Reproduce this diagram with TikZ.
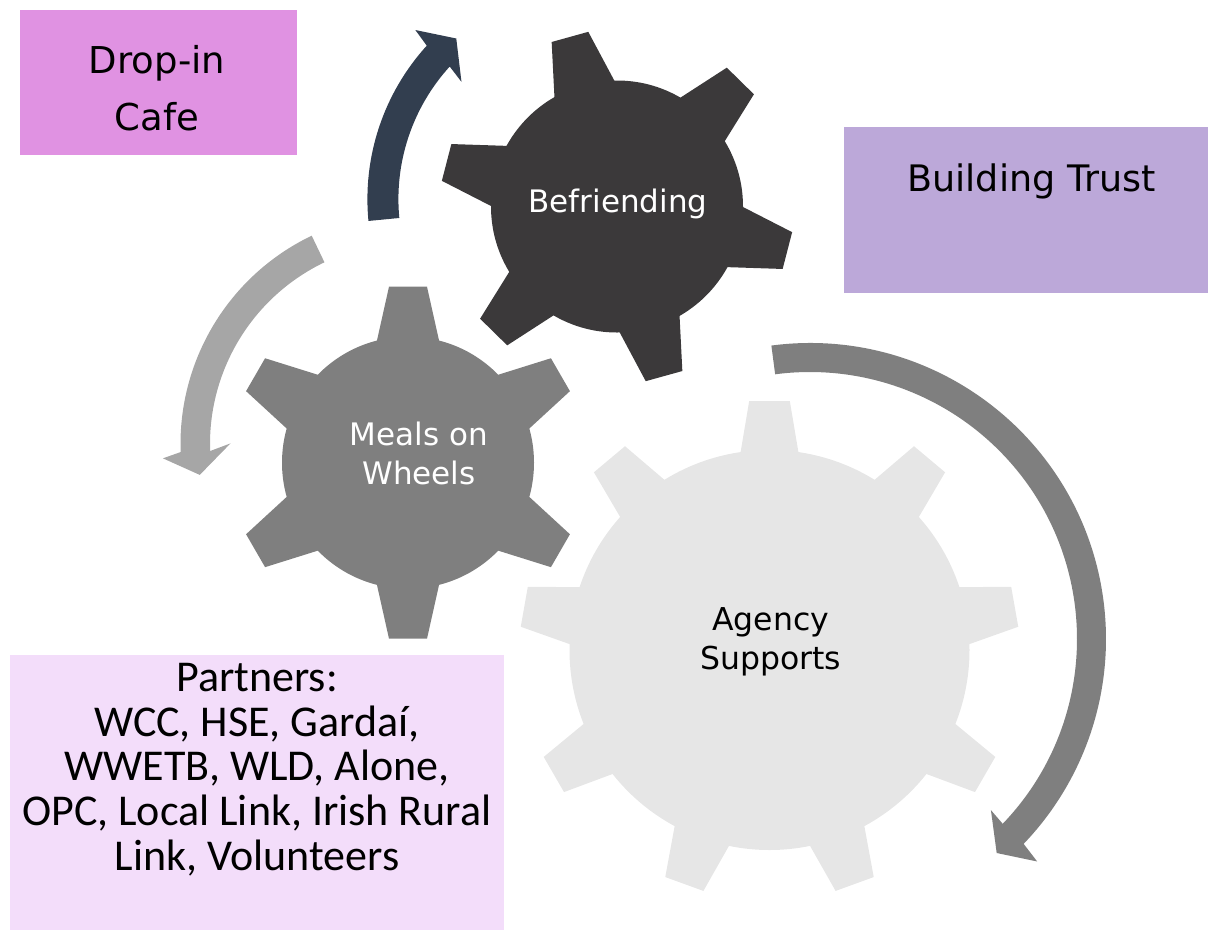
\documentclass[tikz,border=0pt]{standalone}
\usepackage{fontspec}
\setmainfont{DejaVu Sans}
\newfontfamily\partnersfont{Carlito}
\usetikzlibrary{calc}
\definecolor{gearDark}{HTML}{3B393A}
\definecolor{gearMid}{HTML}{7F7F7F}
\definecolor{gearLight}{HTML}{E6E6E6}
\definecolor{arrNavy}{HTML}{323E4F}
\definecolor{arrLight}{HTML}{A6A6A6}
\definecolor{arrMid}{HTML}{7F7F7F}
\definecolor{boxPink}{HTML}{E092E2}
\definecolor{boxLav}{HTML}{BCA8D9}
\definecolor{boxPale}{HTML}{F3DDFA}
% #1 colour, #2 centre, #3 body radius, #4 teeth, #5 first angle, #6 inner x, #7 inner half width, #8 tip x, #9 tip half width
\newcommand{\gearshape}[9]{%
  \fill[#1] (#2) circle[radius=#3pt];
  \foreach \k in {1,...,#4}{%
    \fill[#1, shift={(#2)}, rotate={#5+(\k-1)*360/#4}] (#6,-#7) -- (#8,-#9) -- (#8,#9) -- (#6,#7) -- cycle;}%
}
\begin{document}
\begin{tikzpicture}[x=1pt,y=1pt,
  lbl/.style={anchor=base, inner sep=0pt, align=center}]
\useasboundingbox (0,0) rectangle (1208,-930);

% boxes
\fill[boxPink] (20,-10) rectangle (297,-155);
\fill[boxLav] (844,-127) rectangle (1208,-293);
\fill[boxPale] (10,-655) rectangle (504,-930);

% gear centres
\coordinate (gB) at (617,-206.5);
\coordinate (gM) at (408,-462.7);
\coordinate (gA) at (769.5,-650);

% gears
\gearshape{gearDark}{gB}{126}{6}{105.5}{100}{36}{176}{19}
\gearshape{gearMid}{gM}{126}{6}{90}{100}{36}{176}{19}
\gearshape{gearLight}{gA}{200}{9}{90}{170}{33.6}{249}{20.3}

% arrow centres
\coordinate (cN) at (595.4,-199.1);
\coordinate (cL) at (411.5,-444);
\coordinate (cR) at (810,-639);

% navy arrow
\fill[arrNavy] ($(cN)+(185.5:228)$) arc[start angle=185.5, end angle=137.7, radius=228pt]
  -- ($(cN)+(136.8:247)$) -- ($(cN)+(130.9:212.5)$) -- ($(cN)+(138.8:178)$)
  -- ($(cN)+(137.7:197)$) arc[start angle=137.7, end angle=185.5, radius=197pt] -- cycle;
% light arrow
\fill[arrLight] ($(cL)+(115.6:231)$) arc[start angle=115.6, end angle=182, radius=231pt]
  -- ($(cL)+(183.3:249)$) -- ($(cL)+(188.3:214)$) -- ($(cL)+(179.8:181)$)
  -- ($(cL)+(182:201.5)$) arc[start angle=182, end angle=115.6, radius=201.5pt] -- cycle;
% big right arrow
\fill[arrMid] ($(cR)+(97.5:296)$) arc[start angle=97.5, end angle=-43.8, radius=296pt]
  -- ($(cR)+(-44.4:318)$) -- ($(cR)+(-48.9:284)$) -- ($(cR)+(-43.4:249)$)
  -- ($(cR)+(-43.8:267)$) arc[start angle=-43.8, end angle=97.5, radius=267pt] -- cycle;

% texts (anchor base = baseline of the last line)
\node[lbl, font={\fontsize{37}{57}\selectfont}] (dropin) at (157,-130) {Drop-in\\Cafe};
\node[lbl, font={\fontsize{36.5}{44}\selectfont}] (trust) at (1031.5,-191.7) {Building Trust};
\node[lbl, text=white, font={\fontsize{31}{39}\selectfont}] (befriend) at (618,-212.7) {Befriending};
\node[lbl, text=white, font={\fontsize{31}{39}\selectfont}] (meals) at (419,-484) {Meals on\\Wheels};
\node[lbl, text=black, font={\fontsize{31.5}{39.4}\selectfont}] (agency) at (770.7,-669.8) {Agency\\Supports};
\node[lbl, font={\partnersfont\fontsize{44}{44.6}\selectfont}] (partners) at (257,-870) {Partners:\\WCC, HSE, Gardaí,\\WWETB, WLD, Alone,\\OPC, Local Link, Irish Rural\\Link, Volunteers};
\end{tikzpicture}
\end{document}
